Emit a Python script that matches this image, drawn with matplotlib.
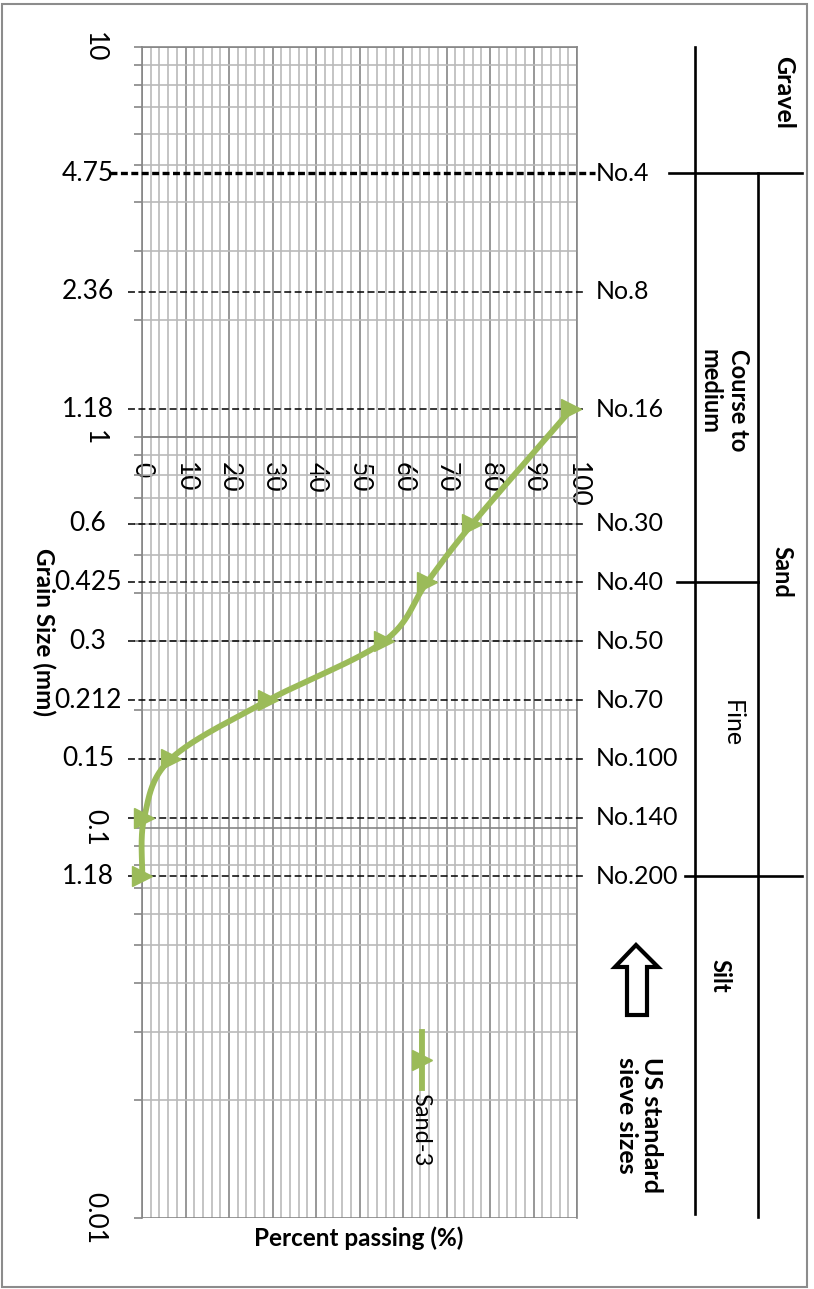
import numpy as np
import matplotlib
matplotlib.use('Agg')
import matplotlib.pyplot as plt
from matplotlib.patches import Rectangle, Polygon
from matplotlib.ticker import LogLocator, NullFormatter, MultipleLocator

plt.rcParams['font.family'] = ['Lato', 'DejaVu Sans']
plt.rcParams['lines.scale_dashes'] = False

# sieve analysis result for Sand-3
grain_size = [1.18, 0.6, 0.425, 0.3, 0.212, 0.15, 0.106, 0.075]
percent_passing = [98.7, 75.9, 65.5, 55.6, 29.0, 6.6, 0.5, 0.1]

# US standard sieves
sieve_sizes = [4.75, 2.36, 1.18, 0.6, 0.425, 0.3, 0.212, 0.15, 0.106, 0.075]
sieve_names = ['No.4', 'No.8', 'No.16', 'No.30', 'No.40', 'No.50',
               'No.70', 'No.100', 'No.140', 'No.200']
size_labels = ['4.75', '2.36', '1.18', '0.6', '0.425', '0.3', '0.212',
               '0.15', '', '1.18']

pct_ticks = list(range(0, 101, 10))
size_ticks = [0.01, 0.1, 1, 10]
size_tick_labels = ['0.01', '0.1', '1', '10']

# class boundaries (mm)
gravel_sand = 4.75
coarse_fine = 0.425
sand_silt = 0.075

GREEN = '#9BBB59'
GRID_MAJOR = '#868686'
GRID_MINOR = '#bababa'

W, H = 814, 1289
fig = plt.figure(figsize=(W / 100, H / 100), dpi=100)
ax = fig.add_axes([142 / W, 1 - 1218 / H, 435 / W, 1171 / H])
ax.set_yscale('log')
ax.set_xlim(0, 100)
ax.set_ylim(0.01, 10)

# grid
ax.xaxis.set_minor_locator(MultipleLocator(2))
ax.yaxis.set_minor_locator(LogLocator(subs=np.arange(2, 10)))
ax.yaxis.set_minor_formatter(NullFormatter())
ax.grid(which='major', color=GRID_MAJOR, lw=1.2)
ax.grid(which='minor', color=GRID_MINOR, lw=1.2)
ax.set_axisbelow(True)
for sp in ax.spines.values():
    sp.set_color(GRID_MAJOR)
    sp.set_linewidth(1.2)

# percent axis crosses at 1 mm, labels turned sideways
ax.spines['bottom'].set_position(('data', 1))
ax.set_xticks(pct_ticks, labels=[str(v) for v in pct_ticks])
ax.tick_params(axis='x', which='both', length=0, pad=18, labelsize=19,
               labelrotation=-90)

ax.set_yticks(size_ticks, labels=size_tick_labels)
ax.tick_params(axis='y', which='both', length=6, width=1.2, color=GRID_MAJOR,
               pad=19, labelsize=19, labelrotation=-90)
plt.setp(ax.get_yticklabels(), va='center')

# dashed sieve lines with names on the right
for s, name in zip(sieve_sizes, sieve_names):
    if s == gravel_sand:
        ax.plot([-7.4, 104.2], [s, s], color='k', lw=2.4, dashes=(5, 2.5),
                clip_on=False, zorder=3)
    else:
        ax.plot([-3.2, 101.6], [s, s], color='k', lw=1.1, dashes=(5, 2.5),
                clip_on=False, zorder=3)
    ax.text(104.4, s, name, ha='left', va='center', fontsize=18,
            clip_on=False)


def smooth_path(xs, ys, n=40):
    # Catmull-Rom style bezier through the points, built in pixel space
    pts = ax.transData.transform(np.column_stack([xs, ys]))
    pts = np.vstack([pts[0], pts, pts[-1]])
    out = []
    for i in range(1, len(pts) - 2):
        p0, p1, p2, p3 = pts[i - 1], pts[i], pts[i + 1], pts[i + 2]
        b1 = p1 + (p2 - p0) / 6
        b2 = p2 - (p3 - p1) / 6
        t = np.linspace(0, 1, n)[:, None]
        seg = ((1 - t) ** 3 * p1 + 3 * (1 - t) ** 2 * t * b1
               + 3 * (1 - t) * t ** 2 * b2 + t ** 3 * p2)
        out.append(seg)
    out = ax.transData.inverted().transform(np.vstack(out))
    return out[:, 0], out[:, 1]


cx, cy = smooth_path(percent_passing, grain_size)
ax.plot(cx, cy, color=GREEN, lw=4.2, solid_capstyle='round', zorder=4,
        clip_on=False)
ax.plot(percent_passing, grain_size, ls='none', marker='>', ms=15,
        color=GREEN, zorder=5, clip_on=False)

# overlay in pixel units for the annotations around the chart
ov = fig.add_axes([0, 0, 1, 1])
ov.set_xlim(0, W)
ov.set_ylim(H, 0)
ov.axis('off')


def row_px(size):
    return H - ax.transData.transform((0, size))[1]


# size values written at the left of each dashed line
for s, lab in zip(sieve_sizes, size_labels):
    if lab:
        ov.text(88, row_px(s), lab, ha='center', va='center', fontsize=19)

# axis titles
ov.text(359, 1238, 'Percent passing (%)', ha='center', va='center',
        fontsize=17.5, fontweight='bold')
ov.text(44, 632, 'Grain Size (mm)', ha='center', va='center', rotation=-90,
        fontsize=17.5, fontweight='bold')

# legend
ov.plot([422, 422], [1032, 1088], color=GREEN, lw=4.2)
ov.plot([422], [1060], marker='>', ms=15, color=GREEN)
ov.text(421, 1093, 'Sand-3', ha='center', va='top', rotation=-90, fontsize=17)

# soil classification panel
lk = dict(color='k', lw=1.9)
ov.plot([695, 695], [row_px(10), 1214], **lk)
ov.plot([758, 758], [row_px(gravel_sand), 1217], **lk)
ov.plot([669, 802], [row_px(gravel_sand)] * 2, **lk)
ov.plot([677, 758], [row_px(coarse_fine)] * 2, **lk)
ov.plot([685, 802], [row_px(sand_silt)] * 2, **lk)

bold = dict(rotation=-90, ha='center', va='center', fontsize=17,
            fontweight='bold')
ov.text(784, 92, 'Gravel', **{**bold, 'fontsize': 18})
ov.text(724, 400, 'Course to\nmedium', multialignment='left',
        linespacing=1.3, **bold)
ov.text(782, 572, 'Sand', **bold)
ov.text(732, 724, 'Fine', rotation=-90, ha='center', va='center', fontsize=18)
ov.text(720, 976, 'Silt', **bold)
ov.text(639, 1125, 'US standard\nsieve sizes', multialignment='left',
        linespacing=1.15, **{**bold, 'fontsize': 18})

# hollow arrow pointing up at the sieve numbers
arrow = [(636, 945), (658, 967), (647, 967), (647, 1015), (627, 1015),
         (627, 967), (615, 967)]
ov.add_patch(Polygon(arrow, closed=True, facecolor='white', edgecolor='k',
                     lw=3, joinstyle='miter'))

# frame around the figure
ov.add_patch(Rectangle((2, 4), 805, 1283, fill=False, edgecolor='#8c8c8c',
                       lw=1.5))

fig.savefig('out.png', dpi=100)
